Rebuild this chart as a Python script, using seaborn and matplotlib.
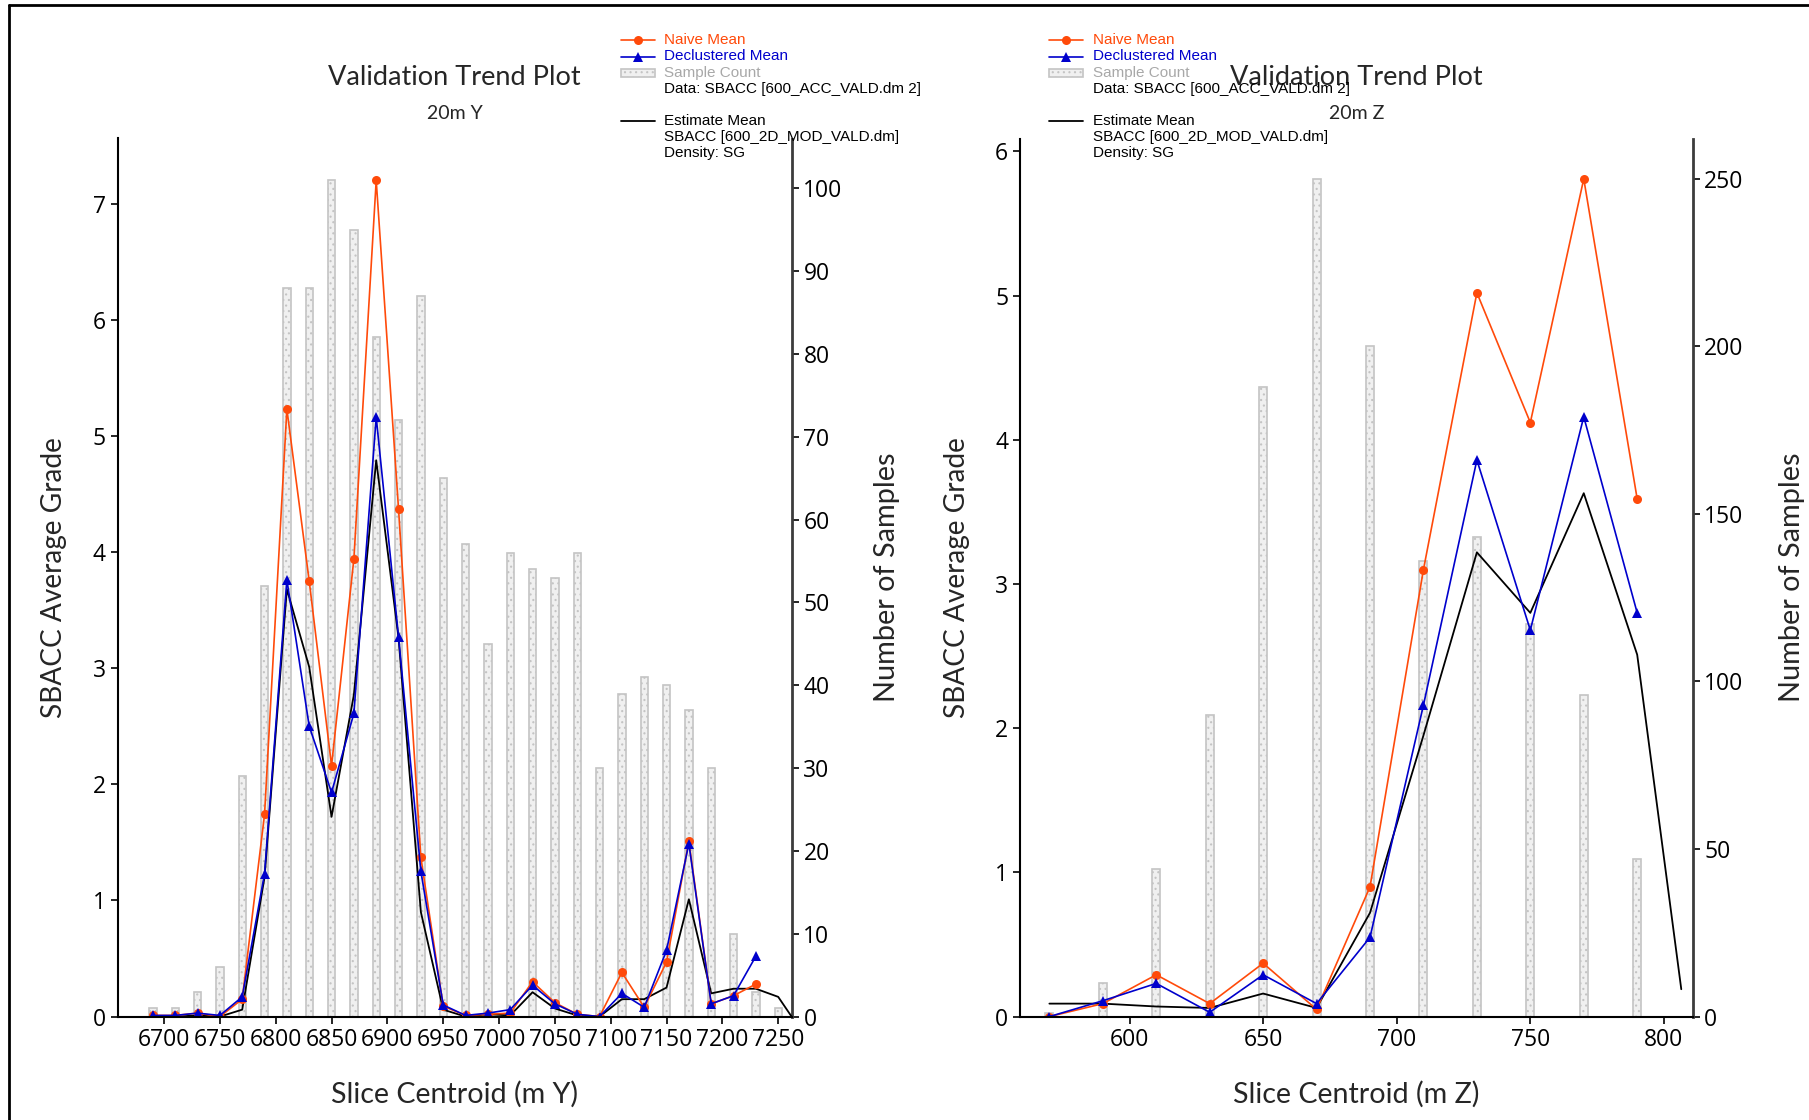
import matplotlib
matplotlib.use("Agg")
import matplotlib.pyplot as plt
from matplotlib.lines import Line2D
from matplotlib.patches import Rectangle
from matplotlib.ticker import MultipleLocator
import seaborn as sns

sns.set_theme(style="white")
plt.rcParams['font.family'] = ['Open Sans', 'DejaVu Sans']
plt.rcParams['hatch.linewidth'] = 0.8

# ---- data: Y slices (left panel) ----
y_centroids = [6690, 6710, 6730, 6750, 6770, 6790, 6810, 6830, 6850, 6870,
               6890, 6910, 6930, 6950, 6970, 6990, 7010, 7030, 7050, 7070,
               7090, 7110, 7130, 7150, 7170, 7190, 7210, 7230, 7250]
y_counts = [1, 1, 3, 6, 29, 52, 88, 88, 101, 95, 82, 72, 87, 65, 57, 45, 56,
            54, 53, 56, 30, 39, 41, 40, 37, 30, 10, 3, 1]
y_naive = [0.01, 0.01, 0.03, 0.0, 0.15, 1.74, 5.23, 3.75, 2.16, 3.94, 7.2,
           4.37, 1.37, 0.09, 0.01, 0.02, 0.03, 0.30, 0.12, 0.02, 0.0, 0.38,
           0.08, 0.47, 1.51, 0.11, 0.18, 0.28, None]
y_declus = [0.01, 0.01, 0.03, 0.01, 0.17, 1.23, 3.76, 2.50, 1.93, 2.61, 5.16,
            3.27, 1.25, 0.10, 0.01, 0.03, 0.06, 0.27, 0.11, 0.02, 0.0, 0.20,
            0.08, 0.57, 1.49, 0.11, 0.18, 0.52, None]
y_est_x = y_centroids + [7262]
y_est = [0.0, 0.0, 0.01, 0.0, 0.06, 1.20, 3.68, 3.01, 1.72, 2.77, 4.79, 3.26,
         0.90, 0.06, 0.0, 0.02, 0.01, 0.21, 0.07, 0.01, 0.0, 0.15, 0.15, 0.25,
         1.01, 0.20, 0.24, 0.24, 0.17, 0.0]

# ---- data: Z slices (right panel) ----
z_centroids = [570, 590, 610, 630, 650, 670, 690, 710, 730, 750, 770, 790]
z_counts = [1, 10, 44, 90, 188, 250, 200, 136, 143, 117, 96, 47]
z_naive = [0.0, 0.09, 0.29, 0.09, 0.37, 0.05, 0.90, 3.10, 5.02, 4.12, 5.81, 3.59]
z_declus = [0.0, 0.11, 0.23, 0.03, 0.29, 0.09, 0.55, 2.16, 3.86, 2.68, 4.16, 2.80]
z_est_x = z_centroids + [806.5]
z_est = [0.09, 0.09, 0.07, 0.06, 0.16, 0.06, 0.72, 1.95, 3.22, 2.80, 3.63, 2.51, 0.19]

ORANGE = '#FF4A0A'
BLUE = '#0000CC'
BAR_FACE = '#F0F0F0'
BAR_EDGE = '#C4C4C4'
LABEL_FONT = 'Lato'
KEY_FONT = 'Liberation Sans'

W, H = 1809, 1120
fig = plt.figure(figsize=(W / 100, H / 100), dpi=100)


def px(x, y):
    return x / W, 1 - y / H


def panel(rect, cents, counts, naive, declus, est_x, est, bar_w,
          xlim, ylim, ylim2, yticks2, axis_name, right_lbl_x):
    ax = fig.add_axes(rect)
    ax2 = ax.twinx()
    sns.barplot(x=cents, y=counts, ax=ax2, native_scale=True, width=bar_w,
                color=BAR_FACE, edgecolor=BAR_EDGE, linewidth=1.2, hatch='...',
                saturation=1, errorbar=None)
    ax.set_zorder(ax2.get_zorder() + 1)
    ax.patch.set_visible(False)

    sns.lineplot(x=est_x, y=est, ax=ax, color='black', linewidth=1.3, sort=False)
    sns.lineplot(x=cents, y=naive, ax=ax, color=ORANGE, linewidth=1.2,
                 marker='o', markersize=6.5, markeredgewidth=0, sort=False)
    sns.lineplot(x=cents, y=declus, ax=ax, color=BLUE, linewidth=1.2,
                 marker='^', markersize=7, markeredgewidth=0, sort=False)

    ax.xaxis.set_major_locator(MultipleLocator(50))
    ax.set_xlim(*xlim)
    ax.set_ylim(*ylim)
    ax2.set_ylim(*ylim2)
    ax2.set_yticks(yticks2)

    for a in (ax, ax2):
        a.spines['top'].set_visible(False)
    ax2.spines['left'].set_visible(False)
    ax2.spines['bottom'].set_visible(False)
    ax.spines['right'].set_visible(False)
    ax.spines['left'].set_color('black')
    ax.spines['bottom'].set_color('black')
    ax.spines['left'].set_linewidth(1.5)
    ax.spines['bottom'].set_linewidth(1.5)
    ax2.spines['right'].set_color('#3C3C3C')
    ax2.spines['right'].set_linewidth(2)

    ax.tick_params(axis='both', which='major', bottom=True, left=True,
                   direction='out', length=5, width=1.2, labelsize=16.5,
                   colors='black')
    ax2.tick_params(axis='y', right=True, direction='out', length=5, width=1.2,
                    labelsize=16.5, colors='black')

    ax.set_xlabel(f'Slice Centroid (m {axis_name})', fontsize=20.6,
                  family=LABEL_FONT)
    ax.xaxis.set_label_coords(0.5, -0.073)
    ax.set_ylabel('SBACC Average Grade', fontsize=20.2, family=LABEL_FONT)
    ax.yaxis.set_label_coords(-0.075, 0.5)
    ax2.set_ylabel('Number of Samples', fontsize=20.8, family=LABEL_FONT)
    ax2.yaxis.set_label_coords(right_lbl_x, 0.5)

    ax.text(0.5, 1.070, 'Validation Trend Plot', transform=ax.transAxes,
            ha='center', va='center', fontsize=19.5, family=LABEL_FONT)
    ax.text(0.5, 1.029, f'20m {axis_name}', transform=ax.transAxes,
            ha='center', va='center', fontsize=14, family=LABEL_FONT)
    return ax


def draw_key(x0, x1, xt):
    rows = [40.4, 56.5, 72.7, 88.8, 121.1, 137.3, 153.4]
    xm = (x0 + x1) / 2
    ya = [px(0, r)[1] for r in rows]
    fx0, fx1, fxm, fxt = x0 / W, x1 / W, xm / W, xt / W
    fig.add_artist(Line2D([fx0, fx1], [ya[0]] * 2, color=ORANGE, lw=1.2,
                          transform=fig.transFigure))
    fig.add_artist(Line2D([fxm], [ya[0]], color=ORANGE, marker='o', ms=6.5,
                          mew=0, transform=fig.transFigure))
    fig.add_artist(Line2D([fx0, fx1], [ya[1]] * 2, color=BLUE, lw=1.2,
                          transform=fig.transFigure))
    fig.add_artist(Line2D([fxm], [ya[1]], color=BLUE, marker='^', ms=7,
                          mew=0, transform=fig.transFigure))
    fig.add_artist(Rectangle((fx0, ya[2] - 4 / H), fx1 - fx0, 8 / H,
                             facecolor=BAR_FACE, edgecolor=BAR_EDGE, lw=1.2,
                             hatch='...', transform=fig.transFigure))
    fig.add_artist(Line2D([fx0, fx1], [ya[4]] * 2, color='black', lw=1.3,
                          transform=fig.transFigure))
    texts = [('Naive Mean', ORANGE), ('Declustered Mean', BLUE),
             ('Sample Count', '#A8A8A8'),
             ('Data: SBACC [600_ACC_VALD.dm 2]', 'black'),
             ('Estimate Mean', 'black'),
             ('SBACC [600_2D_MOD_VALD.dm]', 'black'),
             ('Density: SG', 'black')]
    for (t, c), y in zip(texts, ya):
        fig.text(fxt, y, t, color=c, fontsize=11, family=KEY_FONT,
                 ha='left', va='center')


panel([117.7 / W, 1 - 1016.6 / H, 673.9 / W, 878.1 / H],
      y_centroids, y_counts, y_naive, y_declus, y_est_x, y_est, 0.33,
      (6658.5, 7262), (0, 7.56), (0, 106), list(range(0, 101, 10)), 'Y', 1.123)
panel([1020 / W, 1 - 1016.6 / H, 672.5 / W, 878.1 / H],
      z_centroids, z_counts, z_naive, z_declus, z_est_x, z_est, 0.15,
      (559, 810.7), (0, 6.09), (0, 262), list(range(0, 251, 50)), 'Z', 1.128)

draw_key(621, 655, 664.5)
draw_key(1049, 1083, 1093)

# outer frame (partly cut off at the right and bottom)
fig.add_artist(Line2D([9 / W, 9 / W], [0, 1 - 5 / H], color='black', lw=2,
                      transform=fig.transFigure))
fig.add_artist(Line2D([9 / W, 1], [1 - 5 / H, 1 - 5 / H], color='black', lw=2,
                      transform=fig.transFigure))

fig.savefig('out.png', dpi=100)
